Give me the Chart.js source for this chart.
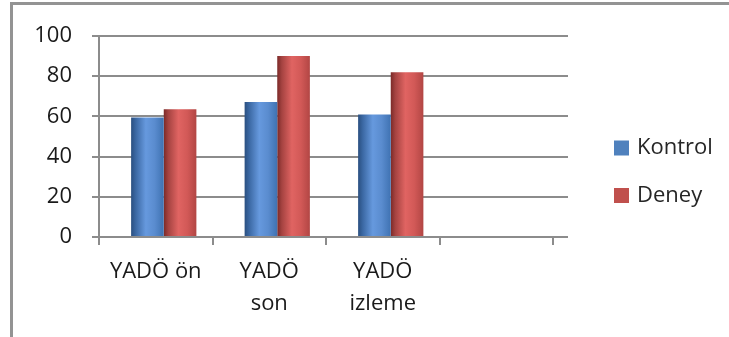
<!DOCTYPE html>
<html>
<head>
<meta charset="utf-8">
<script src="https://cdn.jsdelivr.net/npm/chart.js@4/dist/chart.umd.min.js"></script>
<style>
  html, body { margin: 0; padding: 0; background: #ffffff; overflow: hidden; }
  #wrap { position: relative; width: 729px; height: 337px; overflow: hidden; }
  #frame {
    position: absolute; left: 10px; top: 2px; right: -20px; bottom: -20px;
    border-top: 3px solid #939393; border-left: 3px solid #939393;
  }
  #c { position: absolute; left: 0; top: 0; }
</style>
</head>
<body>
<div id="wrap">
  <div id="frame"></div>
  <canvas id="c" width="729" height="337"></canvas>
</div>
<script>
// Categories along the x axis (the last slot is left empty)
const CATEGORIES = ["YADÖ ön", ["YADÖ", "son"], ["YADÖ", "izleme"], ""];
// Series
const SERIES_NAMES = ["Kontrol", "Deney"];
const KONTROL = [59.5, 67.2, 61.0];
const DENEY = [63.5, 90.0, 82.0];
// Value axis ticks
const Y_TICKS = [0, 20, 40, 60, 80, 100];

const SERIES_COLORS = ["#4f81bd", "#c0504d"];
const SHADES = [
  [[0, "#2a4f80"], [0.14, "#3b68a3"], [0.45, "#6699de"], [0.72, "#5a8ccf"], [1, "#3f72b2"]],
  [[0, "#7b2a28"], [0.14, "#a54341"], [0.45, "#e06462"], [0.72, "#d25957"], [1, "#b24644"]]
];
const CATEGORY_PCT = 0.575;
const BAR_SHIFT = 8 / 113.5;   // bars sit a little right of the label centres
const GRID = "#8c8c8c";
const FONT = "'Open Sans', 'Liberation Sans', sans-serif";

// Cylinder-like horizontal shading for each bar
function barFill(ctx) {
  const ds = ctx.datasetIndex;
  const flat = SERIES_COLORS[ds];
  if (ctx.type !== "data") return flat;
  const chart = ctx.chart;
  const xs = chart.scales && chart.scales.xb;
  if (!xs) return flat;
  const p0 = xs.getPixelForValue(0), p1 = xs.getPixelForValue(1);
  const unit = p1 - p0;
  const center = xs.getPixelForValue(ctx.dataIndex);
  if (!isFinite(unit) || !isFinite(center) || unit <= 0) return flat;
  const group = unit * CATEGORY_PCT;
  const w = group / 2;
  const left = center - group / 2 + ds * w;
  const g = chart.ctx.createLinearGradient(left, 0, left + w, 0);
  SHADES[ds].forEach(([o, c]) => g.addColorStop(o, c));
  return g;
}

// Legend to the right of the plot: colour square + series name
const sideLegend = {
  id: "sideLegend",
  afterDraw(chart, _args, opts) {
    const { ctx, chartArea } = chart;
    const x = chartArea.right + opts.gap;
    ctx.save();
    ctx.font = `${opts.fontSize}px ${FONT}`;
    ctx.textBaseline = "middle";
    ctx.textAlign = "left";
    chart.data.datasets.forEach((ds, i) => {
      const cy = opts.firstY + i * opts.spacing;
      ctx.fillStyle = SERIES_COLORS[i];
      ctx.fillRect(x, cy - opts.box / 2, opts.box, opts.box);
      ctx.fillStyle = opts.color;
      ctx.fillText(ds.label, x + opts.box + 8, cy);
    });
    ctx.restore();
  }
};

const toPoints = arr => arr.map((v, i) => ({ x: i, y: v }));

new Chart(document.getElementById("c"), {
  type: "bar",
  data: {
    labels: CATEGORIES,
    datasets: [
      { label: SERIES_NAMES[0], data: toPoints(KONTROL), xAxisID: "xb", yAxisID: "y",
        backgroundColor: barFill, borderWidth: 0 },
      { label: SERIES_NAMES[1], data: toPoints(DENEY), xAxisID: "xb", yAxisID: "y",
        backgroundColor: barFill, borderWidth: 0 }
    ]
  },
  plugins: [sideLegend],
  options: {
    responsive: false,
    animation: false,
    devicePixelRatio: 1,
    categoryPercentage: CATEGORY_PCT,
    barPercentage: 1.0,
    layout: { padding: { left: 0, top: 36, right: 141, bottom: 0 } },
    font: { family: FONT },
    plugins: {
      tooltip: { enabled: false },
      legend: { display: false },
      sideLegend: { gap: 61, firstY: 148, spacing: 47.5, box: 15, fontSize: 22, color: "#262626" }
    },
    scales: {
      x: {
        type: "category",
        position: "bottom",
        offset: true,
        grid: { offset: true, drawOnChartArea: false, drawTicks: true, tickLength: 8, color: GRID, lineWidth: 2 },
        border: { display: true, color: GRID, width: 2 },
        ticks: {
          color: "#1a1a1a",
          font: { family: FONT, size: 22, lineHeight: 1.45 },
          padding: 11,
          maxRotation: 0,
          autoSkip: false
        },
        afterFit: s => { s.height = 100; }
      },
      xb: {
        type: "linear",
        display: false,
        offset: false,
        grid: { offset: false },
        min: -0.5 - BAR_SHIFT,
        max: CATEGORIES.length - 0.5 - BAR_SHIFT,
        afterBuildTicks: s => { s.ticks = CATEGORIES.map((_, i) => ({ value: i })); }
      },
      y: {
        type: "linear",
        position: "left",
        min: Y_TICKS[0],
        max: Y_TICKS[Y_TICKS.length - 1],
        afterBuildTicks: s => { s.ticks = Y_TICKS.map(v => ({ value: v })); },
        grid: { color: GRID, lineWidth: 2, drawTicks: true, tickLength: 7 },
        border: { display: true, color: GRID, width: 2 },
        ticks: { color: "#1a1a1a", font: { family: FONT, size: 22 }, padding: 20 },
        afterFit: s => { s.width = 99; }
      },
      yr: {
        type: "linear",
        position: "right",
        min: Y_TICKS[0],
        max: Y_TICKS[Y_TICKS.length - 1],
        afterBuildTicks: s => { s.ticks = Y_TICKS.map(v => ({ value: v })); },
        grid: { color: GRID, lineWidth: 2, drawOnChartArea: false, drawTicks: true, tickLength: 15 },
        border: { display: false },
        ticks: { display: false },
        afterFit: s => { s.width = 35; }
      }
    }
  }
});
</script>
</body>
</html>
